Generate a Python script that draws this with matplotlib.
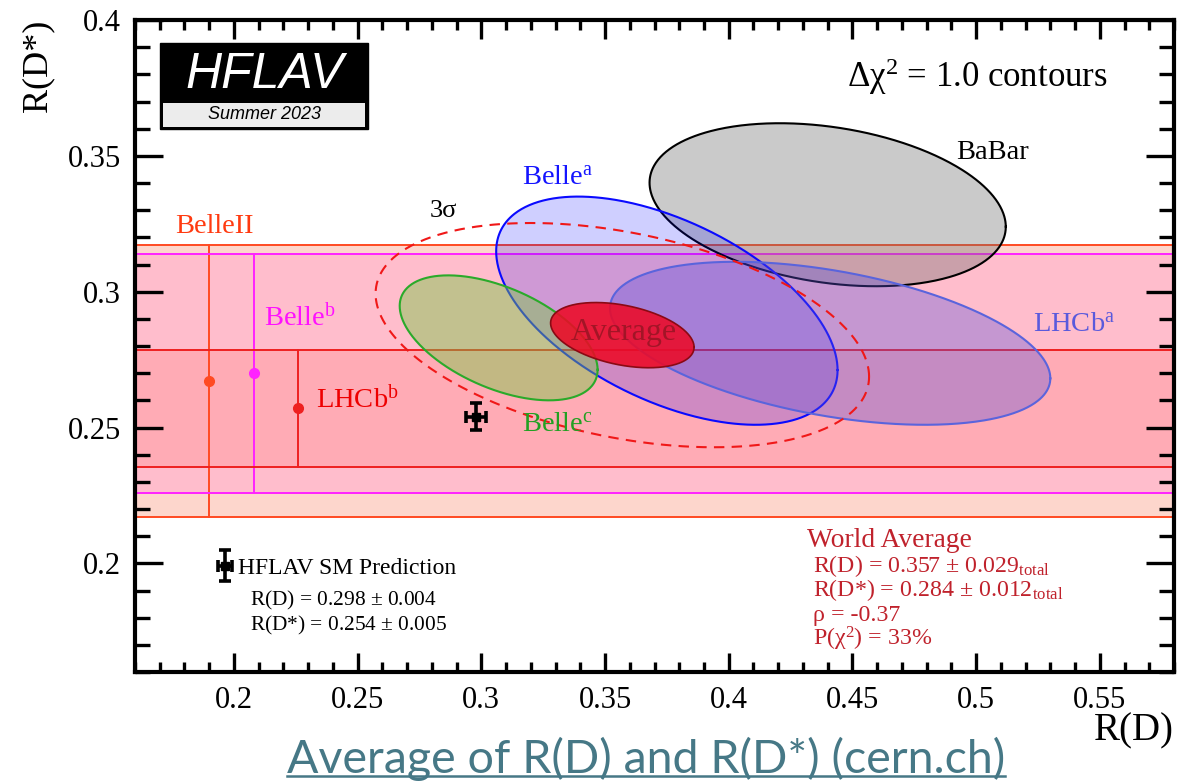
import numpy as np
import matplotlib
matplotlib.use("Agg")
import matplotlib.pyplot as plt
from matplotlib.patches import Rectangle
from matplotlib.lines import Line2D
from matplotlib.legend_handler import HandlerErrorbar
from matplotlib.ticker import MultipleLocator, FuncFormatter

plt.rcParams["font.family"] = ["Liberation Serif", "DejaVu Serif"]
plt.rcParams["mathtext.fontset"] = "custom"
plt.rcParams["mathtext.rm"] = "Liberation Serif"
plt.rcParams["mathtext.it"] = "Liberation Serif:italic"
plt.rcParams["mathtext.bf"] = "Liberation Serif:bold"

# ---- measurements of both R(D) and R(D*) (Delta chi^2 = 1 contours) ----
ell_names = ["BaBar", "Belle$^{\\mathrm{a}}$", "LHCb$^{\\mathrm{a}}$", "Belle$^{\\mathrm{c}}$"]
ell_rd = [0.440, 0.375, 0.441, 0.307]
ell_rd_err = [0.072, 0.069, 0.089, 0.040]
ell_rds = [0.332, 0.293, 0.281, 0.283]
ell_rds_err = [0.030, 0.042, 0.030, 0.023]
ell_rho = [-0.27, -0.52, -0.43, -0.51]

# ---- R(D*)-only measurements (horizontal bands) ----
band_names = ["BelleII", "Belle$^{\\mathrm{b}}$", "LHCb$^{\\mathrm{b}}$"]
band_rds = [0.267, 0.270, 0.257]
band_err = [0.050, 0.044, 0.0215]
band_xpos = [0.190, 0.208, 0.226]

# ---- world average ----
avg_rd, avg_rd_err = 0.357, 0.029
avg_rds, avg_rds_err = 0.284, 0.012
avg_rho = -0.37
avg_pchi2 = 33

# ---- SM prediction ----
sm_rd, sm_rd_err = 0.298, 0.004
sm_rds, sm_rds_err = 0.254, 0.005


def contour(x0, sx, y0, sy, rho, k=1.0, n=600):
    t = np.linspace(0, 2 * np.pi, n)
    x = x0 + k * sx * np.cos(t)
    y = y0 + k * sy * (rho * np.cos(t) + np.sqrt(1 - rho ** 2) * np.sin(t))
    return x, y


W, H = 1191, 782
fig = plt.figure(figsize=(W / 100, H / 100), dpi=100)
ax = fig.add_axes([135 / W, 1 - 672 / H, (1174 - 135) / W, (672 - 20) / H])
ax.set_xlim(0.16, 0.58)
ax.set_ylim(0.16, 0.40)

# bands: fills (nested, widest first), then edge lines and points
band_fill = ["#fdd6cc", "#ffbdcc", "#ffabb5"]
band_line = ["#ff4a22", "#ff22ff", "#ee2020"]
band_text = ["#ff3a10", "#ff10ff", "#ee0000"]
for v, e, fc in zip(band_rds, band_err, band_fill):
    ax.axhspan(v - e, v + e, color=fc, lw=0, zorder=0.5)
for v, e, xp, lc in zip(band_rds, band_err, band_xpos, band_line):
    ax.axhline(v + e, color=lc, lw=1.4, zorder=1)
    ax.axhline(v - e, color=lc, lw=1.4, zorder=1)
    ax.plot([xp, xp], [v - e, v + e], color=lc, lw=1.4, zorder=1)
    ax.plot([xp], [v], "o", color=lc, ms=7, zorder=1.1)

# two-dimensional measurements
ell_face = [("#6e6e6e", 0.36), ("#0000ff", 0.19), ("#5a50dc", 0.35), ("#78c846", 0.45)]
ell_edge = ["#000000", "#0a0aff", "#5a64dc", "#2aaa2a"]
for i in range(len(ell_rd)):
    x, y = contour(ell_rd[i], ell_rd_err[i], ell_rds[i], ell_rds_err[i], ell_rho[i])
    fcol, fa = ell_face[i]
    ax.fill(x, y, color=fcol, alpha=fa, lw=0, zorder=2 + i * 0.1)
    ax.plot(x, y, color=ell_edge[i], lw=1.5, zorder=2.05 + i * 0.1)

# 3 sigma contour of the average
k3 = np.sqrt(-2 * np.log(1 - 0.9973))
x, y = contour(avg_rd, avg_rd_err, avg_rds, avg_rds_err, avg_rho, k=k3)
ax.plot(x, y, color="#f01818", lw=1.5, ls=(0, (5, 3.5)), zorder=2.6)

# 1 sigma average
x, y = contour(avg_rd, avg_rd_err, avg_rds, avg_rds_err, avg_rho)
ax.fill(x, y, color="#ec0a26", alpha=0.88, lw=0, zorder=2.8)
ax.plot(x, y, color="#8a0a14", lw=1.2, zorder=2.85)
ax.text(avg_rd + 0.0007, avg_rds - 0.0018, "Average", fontsize=23, color="#8c1420",
        alpha=0.75, ha="center", va="baseline", zorder=3)

# SM prediction
sm = ax.errorbar(sm_rd, sm_rds, xerr=sm_rd_err, yerr=sm_rds_err, fmt="s", color="black",
                 ms=6, elinewidth=2.6, capsize=4, capthick=2.6, zorder=4)

# labels of the measurements
lab_fs = 20.5
ax.text(0.1762, 0.3216, band_names[0], fontsize=lab_fs, color=band_text[0])
ax.text(0.2121, 0.2877, band_names[1], fontsize=lab_fs, color=band_text[1])
ax.text(0.2332, 0.2575, band_names[2], fontsize=lab_fs, color=band_text[2])
ax.text(0.4919, 0.3488, ell_names[0], fontsize=lab_fs, color="black")
ax.text(0.3164, 0.3393, ell_names[1], fontsize=lab_fs, color="#1414ff")
ax.text(0.5230, 0.2851, ell_names[2], fontsize=lab_fs, color="#5a5adc")
ax.text(0.3164, 0.2483, ell_names[3], fontsize=lab_fs, color="#22a022")
ax.text(0.2792, 0.3275, "3\u03c3", fontsize=19, color="black")

ax.text(0.9365, 0.897, "\u0394\u03c7$^{2}$ = 1.0 contours", fontsize=25,
        transform=ax.transAxes, ha="right", va="baseline")

# world average summary
wa_col = "#c0222c"
ax.text(0.647, (672 - 547) / 652, "World Average", fontsize=19.8, color=wa_col,
        transform=ax.transAxes, va="baseline")
wa_lines = [
    "R(D) = %.3f $\\pm$ %.3f$_{\\mathrm{total}}$" % (avg_rd, avg_rd_err),
    "R(D*) = %.3f $\\pm$ %.3f$_{\\mathrm{total}}$" % (avg_rds, avg_rds_err),
    "\u03c1 = %.2f" % avg_rho,
    "P(\u03c7$^{2}$) = %d%%" % avg_pchi2,
]
for j, s in enumerate(wa_lines):
    ax.text((813 - 135) / 1039, (672 - 572 - 24.5 * j) / 652, s, fontsize=17.2,
            color=wa_col, transform=ax.transAxes, va="baseline")

# SM prediction legend
ax.legend([sm], ["HFLAV SM Prediction"], loc="center left",
          bbox_to_anchor=((217 - 135) / 1039, (672 - 568) / 652),
          frameon=False, fontsize=17, handlelength=0.7, handletextpad=0.2,
          borderpad=0, borderaxespad=0,
          handler_map={type(sm): HandlerErrorbar(xerr_size=0.3, yerr_size=0.64)})
ax.text((250 - 135) / 1039, (672 - 605) / 652,
        "R(D) = %.3f $\\pm$ %.3f" % (sm_rd, sm_rd_err), fontsize=15.4,
        transform=ax.transAxes, va="baseline")
ax.text((250 - 135) / 1039, (672 - 630) / 652,
        "R(D*) = %.3f $\\pm$ %.3f" % (sm_rds, sm_rds_err), fontsize=15.4,
        transform=ax.transAxes, va="baseline")

# HFLAV logo
ax.add_patch(Rectangle((0.024, 0.8328), 0.2003, 0.1319, transform=ax.transAxes,
                       facecolor="black", edgecolor="black", zorder=5))
ax.add_patch(Rectangle((0.0269, 0.8359), 0.1945, 0.0368, transform=ax.transAxes,
                       facecolor="#ececec", edgecolor="none", zorder=5.1))
ax.text(0.1243, 0.9155, "HFLAV", fontsize=36, color="white", style="italic",
        family=["Liberation Sans"], ha="center", va="center",
        transform=ax.transAxes, zorder=6)
ax.text(0.1243, 0.8545, "Summer 2023", fontsize=13, color="black", style="italic",
        family=["Liberation Sans"], ha="center", va="center",
        transform=ax.transAxes, zorder=6)

# axes styling
for s in ax.spines.values():
    s.set_linewidth(3)
    s.set_zorder(10)
ax.xaxis.set_major_locator(MultipleLocator(0.05))
ax.xaxis.set_minor_locator(MultipleLocator(0.01))
ax.yaxis.set_major_locator(MultipleLocator(0.05))
ax.yaxis.set_minor_locator(MultipleLocator(0.01))
fmt = FuncFormatter(lambda v, p: ("%g" % round(v, 4)))
ax.xaxis.set_major_formatter(fmt)
ax.yaxis.set_major_formatter(fmt)
ax.tick_params(axis="both", which="both", direction="in", top=True, right=True,
               labelsize=22, width=2.4, zorder=10)
ax.tick_params(axis="x", which="major", length=14, pad=10)
ax.tick_params(axis="x", which="minor", length=7)
ax.tick_params(axis="y", which="major", length=20, pad=10)
ax.tick_params(axis="y", which="minor", length=11)
ax.set_xticks(list(np.arange(0.20, 0.551, 0.05)))
ax.set_yticks([0.20, 0.25, 0.30, 0.35, 0.40])
ax.set_xlabel("R(D)", fontsize=28, loc="right", labelpad=-2)
ax.set_ylabel("R(D*)", fontsize=26, loc="top", labelpad=10)

# link caption under the chart
cap = fig.text(646 / W, 1 - 773 / H, "Average of R(D) and R(D*) (cern.ch)",
               fontsize=33.5, color="#467886", family=["Lato", "DejaVu Sans"],
               ha="center", va="baseline")
fig.canvas.draw()
bb = cap.get_window_extent()
uy = 1 - 776 / H
fig.add_artist(Line2D([bb.x0 / W, bb.x1 / W], [uy, uy], color="#467886",
                      lw=1.8, transform=fig.transFigure))

fig.savefig("out.png", dpi=100)
